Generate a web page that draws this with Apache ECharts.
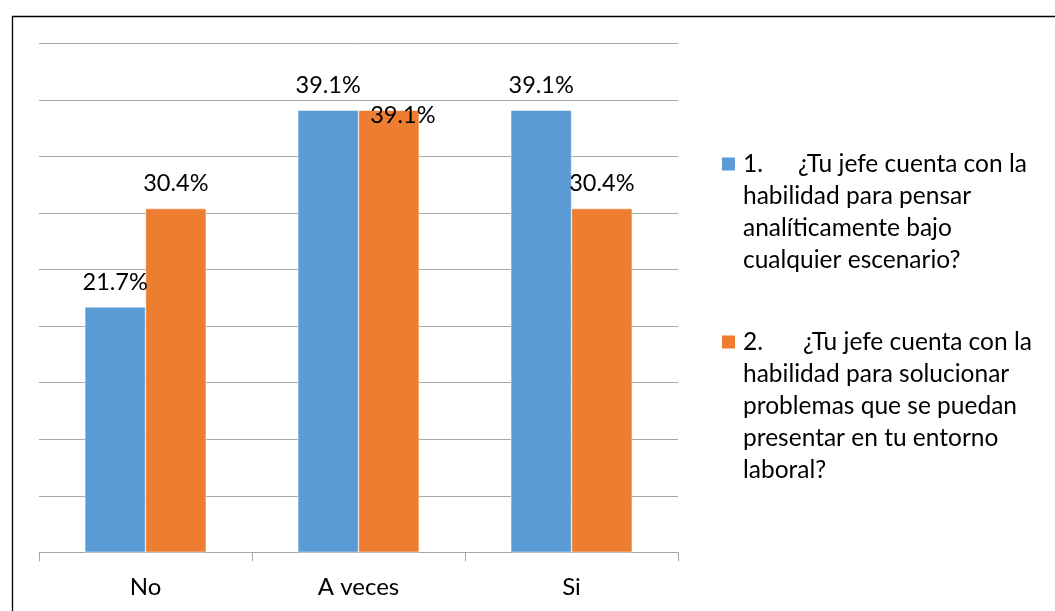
<!DOCTYPE html>
<html>
<head>
<meta charset="utf-8">
<script src="https://cdn.jsdelivr.net/npm/echarts@6/dist/echarts.min.js"></script>
<style>html,body{margin:0;padding:0;background:#fff}#c{width:1055px;height:611px}</style>
</head>
<body>
<div id="c"></div>
<script>
var categories = ['No', 'A veces', 'Si'];
var series1Name = '1.\t¿Tu jefe cuenta con la habilidad para pensar analíticamente bajo cualquier escenario?';
var series2Name = '2.\t¿Tu jefe cuenta con la habilidad para solucionar problemas que se puedan presentar en tu entorno laboral?';
var series1Values = [21.7, 39.1, 39.1];
var series2Values = [30.4, 39.1, 30.4];
var series1Lines = ['¿Tu jefe cuenta con la', 'habilidad para pensar', 'analíticamente bajo', 'cualquier escenario?'];
var series2Lines = ['¿Tu jefe cuenta con la', 'habilidad para solucionar', 'problemas que se puedan', 'presentar en tu entorno', 'laboral?'];
var yMin = 0, yMax = 45, yInterval = 5;

var FONT = 'Lato';
var LEG_FS = 24.5;
var chart = echarts.init(document.getElementById('c'), null, {renderer: 'canvas'});

function legendText(num, lines) {
  var out = [];
  for (var i = 0; i < lines.length - 1; i++) out.push('{t|}');
  out.push('{n|' + num + '}{t|' + lines[0] + '}');
  for (var j = 1; j < lines.length; j++) out.push('{t|' + lines[j] + '}');
  return out.join('\n');
}
function legendCfg(name, centerY, num, numW, lines) {
  var total = lines.length * 2 - 1;
  return {
    show: true, orient: 'vertical', left: 720, top: centerY - total * 16, padding: 0,
    data: [name], icon: 'rect', itemWidth: 15, itemHeight: 15, itemGap: 0,
    selectedMode: false,
    formatter: function () { return legendText(num, lines); },
    textStyle: {
      fontFamily: FONT, fontSize: LEG_FS, color: '#000', lineHeight: 32, padding: [0, 0, 0, 2],
      rich: {
        n: {fontFamily: FONT, fontSize: LEG_FS, color: '#000', lineHeight: 32, width: numW},
        t: {fontFamily: FONT, fontSize: LEG_FS, color: '#000', lineHeight: 32}
      }
    }
  };
}

var labelBase = {
  show: true, position: 'top', distance: 13, color: '#000',
  fontFamily: FONT, fontSize: 23.5,
  formatter: function (p) { return p.value.toFixed(1) + '%'; }
};

var s2data = series2Values.map(function (v, i) {
  if (i === 1) return {value: v, label: {offset: [14, 30]}};
  return v;
});

chart.setOption({
  animation: false,
  backgroundColor: '#fff',
  graphic: [{
    type: 'rect', left: 10, top: 14, silent: true,
    shape: {x: 0, y: 0, width: 1200, height: 800},
    style: {fill: 'none', stroke: '#000', lineWidth: 1.3}
  }],
  grid: {left: 39, top: 43.5, width: 639, height: 508.8, containLabel: false},
  legend: [
    legendCfg(series1Name, 164, '1.', 55, series1Lines),
    legendCfg(series2Name, 342, '2.', 60, series2Lines)
  ],
  xAxis: {
    type: 'category', data: categories,
    axisLine: {lineStyle: {color: '#A6A6A6', width: 1}},
    axisTick: {show: true, length: 9, lineStyle: {color: '#A6A6A6'}},
    axisLabel: {color: '#000', fontFamily: FONT, fontSize: 24, margin: 23}
  },
  yAxis: {
    type: 'value', min: yMin, max: yMax, interval: yInterval,
    axisLabel: {show: false}, axisLine: {show: false}, axisTick: {show: false},
    splitLine: {lineStyle: {color: '#A6A6A6', width: 1}}
  },
  series: [
    {name: series1Name, type: 'bar', data: series1Values, barGap: '0%', barCategoryGap: '43%',
     itemStyle: {color: '#5B9BD5', borderColor: '#fff', borderWidth: 0.5}, label: labelBase},
    {name: series2Name, type: 'bar', data: s2data, barGap: '0%', barCategoryGap: '43%',
     itemStyle: {color: '#ED7D31', borderColor: '#fff', borderWidth: 0.5}, label: labelBase}
  ]
});
</script>
</body>
</html>
